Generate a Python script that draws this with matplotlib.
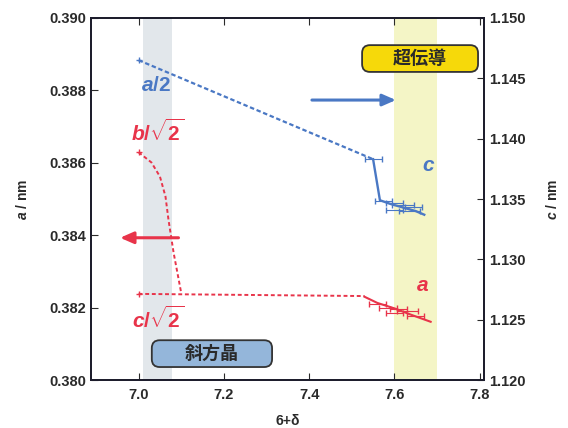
import numpy as np
import matplotlib
matplotlib.use('Agg')
import matplotlib.pyplot as plt
from matplotlib.patches import FancyBboxPatch

plt.rcParams['font.family'] = ['Liberation Sans', 'Noto Sans CJK JP', 'DejaVu Sans']
plt.rcParams['mathtext.fontset'] = 'custom'
plt.rcParams['mathtext.rm'] = 'Liberation Sans:bold'
plt.rcParams['mathtext.it'] = 'Liberation Sans:italic:bold'
plt.rcParams['mathtext.bf'] = 'Liberation Sans:bold'

# ---- data ----
# c axis (right), blue
c_dot_x = [7.0, 7.55]
c_dot_y = [1.1465, 1.1383]
c_line_x = [7.55, 7.566, 7.59, 7.61, 7.63, 7.65, 7.67]
c_line_y = [1.1383, 1.1349, 1.1346, 1.1344, 1.1342, 1.1340, 1.1337]
c_err_x = [7.55, 7.575, 7.60, 7.62, 7.645, 7.60, 7.635]
c_err_y = [1.1383, 1.1348, 1.1347, 1.1345, 1.1343, 1.1341, 1.1340]
c_err_dx = [0.02, 0.02, 0.02, 0.025, 0.02, 0.02, 0.025]

# a axis (left), red
a_dot_x = [7.0, 7.53]
a_dot_y = [0.38238, 0.38232]
a_line_x = [7.53, 7.56, 7.60, 7.64, 7.685]
a_line_y = [0.38230, 0.38213, 0.38198, 0.38180, 0.38161]
a_err_x = [7.56, 7.585, 7.61, 7.63, 7.60, 7.65]
a_err_y = [0.38210, 0.38200, 0.38196, 0.38190, 0.38185, 0.38178]
a_err_dx = [0.02, 0.02, 0.02, 0.025, 0.02, 0.02]

# b/sqrt2 curve (left), red
b_x = [7.0, 7.03, 7.05, 7.063, 7.07, 7.082, 7.10]
b_y = [0.38629, 0.38601, 0.38562, 0.38507, 0.38443, 0.38352, 0.38240]

blue = '#4a78c4'
red = '#e8344a'
txt = '#2a2a2a'

fig = plt.figure(figsize=(5.68, 4.28), dpi=100)
ax = fig.add_axes([0.160, 0.112, 0.692, 0.846])
ax2 = ax.twinx()

ax.set_xlim(6.888, 7.81)
ax.set_ylim(0.380, 0.390)
ax2.set_ylim(1.120, 1.150)

# shaded bands
ax.axvspan(7.01, 7.078, color='#e2e7eb', zorder=0, lw=0)
ax.axvspan(7.60, 7.70, color='#f4f5c6', zorder=0, lw=0)

# red: a and b/sqrt2 on left axis
ax.plot(a_dot_x, a_dot_y, color=red, lw=1.4, ls=(0, (2, 1.4)))
ax.plot(b_x, b_y, color=red, lw=1.4, ls=(0, (2, 1.4)))
ax.plot(a_line_x, a_line_y, color=red, lw=1.5)
ax.errorbar(a_err_x, a_err_y, xerr=a_err_dx, fmt='none', ecolor=red, elinewidth=0.8, capsize=2)
ax.plot([7.0, 7.0], [a_dot_y[0], b_y[0]], ls='none', marker='+', ms=5, color=red)

# blue: c on right axis
ax2.plot(c_dot_x, c_dot_y, color=blue, lw=1.6, ls=(0, (2, 1.2)))
ax2.plot(c_line_x, c_line_y, color=blue, lw=1.7)
ax2.errorbar(c_err_x, c_err_y, xerr=c_err_dx, fmt='none', ecolor=blue, elinewidth=0.8, capsize=2)
ax2.plot([7.0], [c_dot_y[0]], ls='none', marker='+', ms=5, color=blue)

# arrows
ax2.annotate('', xy=(7.61, 1.1432), xytext=(7.40, 1.1432),
             arrowprops=dict(arrowstyle='-|>,head_length=0.8,head_width=0.35', color=blue, lw=2.2))
ax.annotate('', xy=(6.95, 0.38393), xytext=(7.10, 0.38393),
            arrowprops=dict(arrowstyle='-|>,head_length=0.8,head_width=0.35', color=red, lw=2.2))

# curve labels
ax.text(7.04, 0.38814, r'$a/2$', color=blue, fontsize=15, ha='center', va='center')
ax.text(7.045, 0.38685, r'$b/\sqrt{2}$', color=red, fontsize=15, ha='center', va='center')
ax.text(7.045, 0.38168, r'$c/\sqrt{2}$', color=red, fontsize=15, ha='center', va='center')
ax.text(7.68, 0.38592, r'$c$', color=blue, fontsize=15, ha='center', va='center')
ax.text(7.665, 0.38260, r'$a$', color=red, fontsize=15, ha='center', va='center')

# boxed labels (axes coordinates)
asp = 393 / 362
for (x0, y0, w, h, fc, label) in [(0.690, 0.851, 0.295, 0.074, '#f6d90a', '超伝導'),
                                  (0.155, 0.036, 0.306, 0.074, '#94b6da', '斜方晶')]:
    box = FancyBboxPatch((x0, y0), w, h, boxstyle='round,pad=0,rounding_size=0.02',
                         mutation_aspect=asp, transform=ax.transAxes,
                         fc=fc, ec='#333333', lw=1.3, zorder=5)
    ax.add_patch(box)
    ax.text(x0 + w / 2, y0 + h / 2, label, transform=ax.transAxes, fontsize=13,
            fontweight='bold', color=txt, family=['Noto Sans CJK JP'],
            ha='center', va='center', zorder=6)

# ticks and spines
ax.set_xticks([7.0, 7.2, 7.4, 7.6, 7.8])
ax.set_yticks([0.380, 0.382, 0.384, 0.386, 0.388, 0.390])
ax2.set_yticks([1.120, 1.125, 1.130, 1.135, 1.140, 1.145, 1.150])
ax.set_xticklabels(['7.0', '7.2', '7.4', '7.6', '7.8'])
ax.set_yticklabels(['%.3f' % v for v in ax.get_yticks()])
ax2.set_yticklabels(['%.3f' % v for v in ax2.get_yticks()])
ax.tick_params(axis='x', direction='in', top=True, length=5, labelsize=10.5, colors=txt, pad=6)
ax.tick_params(axis='y', direction='in', length=5, labelsize=10.5, colors=txt)
ax2.tick_params(axis='y', direction='in', length=5, labelsize=10.5, colors=txt)
for lab in ax.get_xticklabels() + ax.get_yticklabels() + ax2.get_yticklabels():
    lab.set_fontweight('bold')
for a_ in (ax, ax2):
    for s in a_.spines.values():
        s.set_color('#1c1c2c')
        s.set_linewidth(1.3)

ax.set_xlabel('6+δ', fontsize=10, fontweight='bold', color=txt, labelpad=8)
ax.set_ylabel(r'$a$ / nm', fontsize=10, fontweight='bold', color=txt, labelpad=14)
ax2.set_ylabel(r'$c$ / nm', fontsize=10, fontweight='bold', color=txt, labelpad=14)

fig.savefig('out.png', dpi=100)
